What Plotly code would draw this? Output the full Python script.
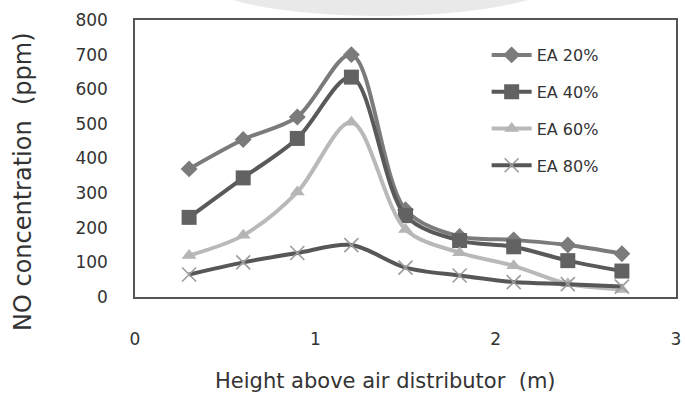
import plotly.graph_objects as go

# Height above the air distributor (m)
heights = [0.3, 0.6, 0.9, 1.2, 1.5, 1.8, 2.1, 2.4, 2.7]

# NO concentration (ppm) for each excess-air level
ea20 = [370, 455, 520, 700, 252, 175, 165, 150, 125]
ea40 = [230, 344, 458, 635, 235, 163, 145, 105, 75]
ea60 = [120, 178, 303, 505, 195, 128, 90, 38, 22]
ea80 = [65, 100, 127, 150, 85, 62, 43, 37, 30]

series_names = ["EA 20%", "EA 40%", "EA 60%", "EA 80%"]
x_ticks = [0, 1, 2, 3]
y_ticks = [0, 100, 200, 300, 400, 500, 600, 700, 800]

x_title = "Height above air distributor\u00a0 (m)"
y_title = "NO concentration\u00a0 (ppm)"

FONT = "DejaVu Sans"
TXT = "#333333"

W, H = 685, 396
ML, MR, MT, MB = 135, 4, 20, 99
PW, PH = W - ML - MR, H - MT - MB


def px_to_paper_x(px):
    return (px - ML) / PW


def px_to_paper_y(py):
    return (H - MB - py) / PH


styles = [
    dict(line="#7b7b7b", marker=dict(symbol="diamond", size=13, color="#7b7b7b")),
    dict(line="#595959", marker=dict(symbol="square", size=15, color="#626262")),
    dict(line="#b9b9b9", marker=dict(symbol="triangle-up", size=13, color="#b5b5b5")),
    dict(line="#575757", marker=dict(symbol="x-thin", size=14, color="#9c9c9c",
                                     line=dict(width=1.6, color="#9c9c9c"))),
]

fig = go.Figure()
for i, (name, vals) in enumerate(zip(series_names, [ea20, ea40, ea60, ea80])):
    st = styles[i]
    fig.add_trace(go.Scatter(
        x=heights, y=vals, name=name, mode="lines+markers",
        line=dict(color=st["line"], width=4, shape="spline", smoothing=0.9),
        marker=st["marker"], legendgroup=name,
    ))

# soft grey watermark arc along the top edge
fig.add_shape(type="circle", xref="paper", yref="paper",
              x0=px_to_paper_x(200), x1=px_to_paper_x(565),
              y0=px_to_paper_y(16), y1=px_to_paper_y(-60),
              fillcolor="#e9e9e9", line=dict(width=0), layer="below")

# axis titles placed as annotations
fig.add_annotation(text=x_title, xref="paper", yref="paper",
                   x=px_to_paper_x(388), y=px_to_paper_y(381),
                   xanchor="center", yanchor="middle", showarrow=False,
                   font=dict(family=FONT, size=21, color=TXT))
fig.add_annotation(text=y_title, xref="paper", yref="paper",
                   x=px_to_paper_x(22), y=px_to_paper_y(182),
                   xanchor="center", yanchor="middle", showarrow=False,
                   textangle=-90, font=dict(family=FONT, size=24, color=TXT))

fig.update_layout(
    width=W, height=H,
    margin=dict(l=ML, r=MR, t=MT, b=MB),
    paper_bgcolor="white", plot_bgcolor="white",
    font=dict(family=FONT, size=16, color=TXT),
    showlegend=True,
    legend=dict(x=0.65, y=0.935, xanchor="left", yanchor="top",
                font=dict(family=FONT, size=16, color=TXT),
                bgcolor="rgba(0,0,0,0)", tracegroupgap=13, itemwidth=40),
    xaxis=dict(range=[0, 3], tickvals=x_ticks, showgrid=False, zeroline=False,
               showline=True, linecolor="#555", linewidth=1.5, mirror=True,
               ticks="", ticklabelstandoff=26, ticklabeloverflow="allow",
               tickfont=dict(family=FONT, size=17, color=TXT)),
    yaxis=dict(range=[0, 800], tickvals=y_ticks, showgrid=False, zeroline=False,
               showline=True, linecolor="#555", linewidth=1.5, mirror=True,
               ticks="", ticklabelstandoff=22,
               tickfont=dict(family=FONT, size=17, color=TXT)),
)

fig.write_html("out.html")
